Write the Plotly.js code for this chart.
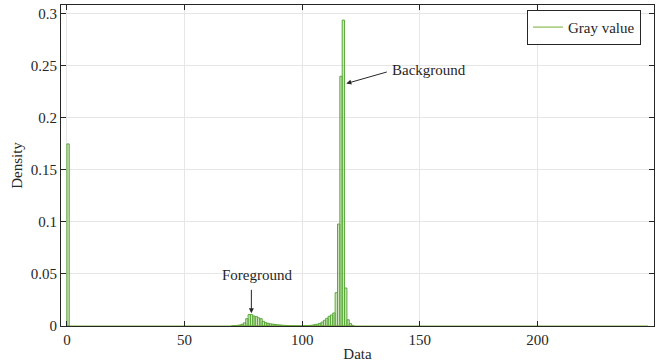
<!DOCTYPE html>
<html>
<head>
<meta charset="utf-8">
<script src="https://cdn.plot.ly/plotly-3.0.1.min.js"></script>
<style>html,body{margin:0;padding:0;background:#fff}#chart{width:665px;height:362px}</style>
</head>
<body>
<div id="chart"></div>
<script>
// Histogram bins (gray level, lower edge) with non-zero density
var grayLevels = [0,
  70,71,72,73,74,75,76,77,78,79,80,81,82,83,84,85,86,87,88,89,90,91,92,93,94,95,96,97,98,99,
  100,101,102,103,104,105,106,107,108,109,110,111,112,113,114,115,116,117,118,119,120,121];
var density = [0.175,
  0.0002,0.0004,0.0006,0.001,0.0016,0.003,0.007,0.011,0.011,0.0096,0.009,0.0078,0.007,0.0045,0.0032,
  0.0026,0.0021,0.0018,0.0015,0.0012,0.001,0.0008,0.0006,0.0004,0.0003,0.0002,0.0002,0.0001,0.0001,0.0001,
  0.0002,0.0003,0.0004,0.0006,0.0009,0.0013,0.0017,0.0025,0.0037,0.0055,0.0074,0.0093,0.0106,0.0125,
  0.032,0.098,0.240,0.294,0.0365,0.006,0.0023,0.0006];
// full extent of the histogram bins
var binExtent = [0, 247];
var binWidth = 1;
var xTicks = [0, 50, 100, 150, 200];
var yTicks = [0, 0.05, 0.1, 0.15, 0.2, 0.25, 0.3];
var seriesName = 'Gray value';

var green = '#5BA83B';
var font = '"Liberation Serif", "Times New Roman", serif';

var barX = grayLevels.map(function(g){ return g + binWidth / 2; });

var traces = [
  {
    type: 'bar',
    x: barX,
    y: density,
    width: grayLevels.map(function(){ return binWidth; }),
    marker: {color: 'rgba(130,190,90,0.4)', line: {color: green, width: 1}},
    showlegend: false,
    hoverinfo: 'x+y'
  },
  {
    type: 'scatter',
    mode: 'lines',
    x: binExtent,
    y: [0, 0],
    line: {color: '#77AC30', width: 1},
    name: seriesName,
    showlegend: true,
    hoverinfo: 'skip'
  }
];

var axisCommon = {
  showline: true, mirror: 'ticks', linecolor: '#262626', linewidth: 1,
  ticks: 'inside', ticklen: 5, tickcolor: '#262626', tickwidth: 1,
  showgrid: true, gridcolor: '#e6e6e6', gridwidth: 1,
  zeroline: false,
  tickfont: {family: font, size: 15, color: '#262626'}
};

var layout = {
  width: 665, height: 362,
  margin: {l: 61, r: 11, t: 5, b: 36},
  paper_bgcolor: '#fff', plot_bgcolor: '#fff',
  font: {family: font, size: 15, color: '#262626'},
  bargap: 0,
  xaxis: Object.assign({}, axisCommon, {
    range: [-2.5, 249.5],
    tickmode: 'array', tickvals: xTicks,
    title: {text: 'Data', font: {family: font, size: 15, color: '#262626'}, standoff: 3}
  }),
  yaxis: Object.assign({}, axisCommon, {
    range: [0, 0.3085],
    tickmode: 'array', tickvals: yTicks,
    title: {text: 'Density', font: {family: font, size: 15, color: '#262626'}, standoff: 4}
  }),
  legend: {
    x: 0.978, xanchor: 'right', y: 0.985, yanchor: 'top',
    bgcolor: '#fff', bordercolor: '#262626', borderwidth: 1,
    font: {family: font, size: 15, color: '#262626'},
    tracegroupgap: 0
  },
  annotations: [
    {x: 118.75, y: 0.233, xref: 'x', yref: 'y', text: '', showarrow: true,
     ax: 42, ay: -12, arrowhead: 2, arrowsize: 1, arrowwidth: 1, arrowcolor: '#262626'},
    {x: 137.4, y: 0.2459, xref: 'x', yref: 'y', text: 'Background', showarrow: false,
     xanchor: 'left', yanchor: 'middle', font: {family: font, size: 15, color: '#262626'}},
    {x: 78.4, y: 0.0122, xref: 'x', yref: 'y', text: '', showarrow: true,
     ax: 0, ay: -25, arrowhead: 2, arrowsize: 1, arrowwidth: 1, arrowcolor: '#262626'},
    {x: 80.8, y: 0.0488, xref: 'x', yref: 'y', text: 'Foreground', showarrow: false,
     xanchor: 'center', yanchor: 'middle', font: {family: font, size: 15, color: '#262626'}}
  ]
};

Plotly.newPlot('chart', traces, layout, {displayModeBar: false, staticPlot: true});
</script>
</body>
</html>
